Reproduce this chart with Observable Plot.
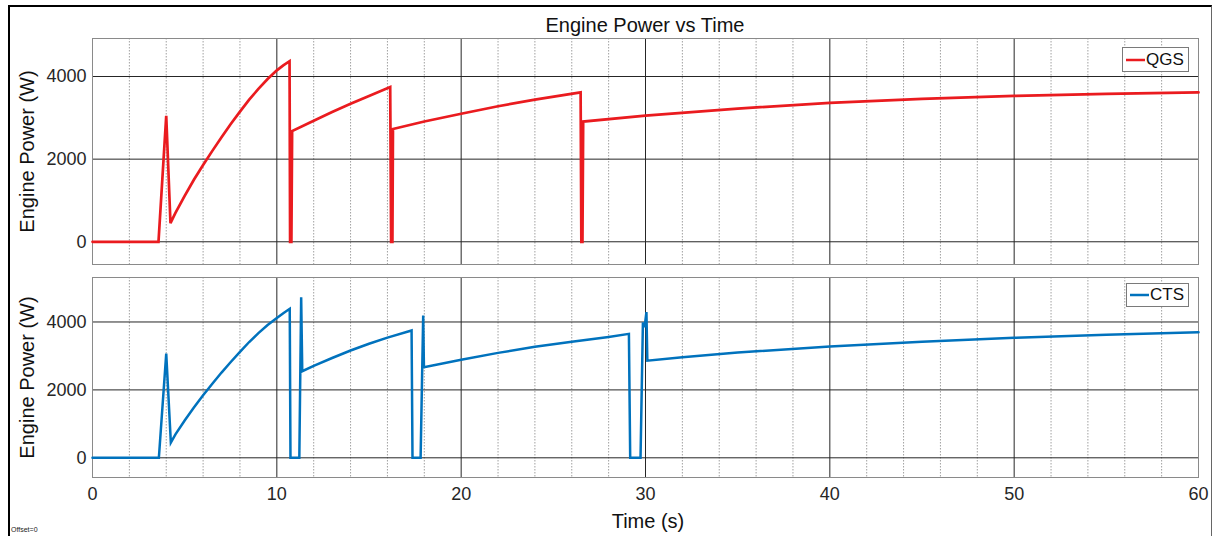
<!DOCTYPE html>
<html><head><meta charset="utf-8">
<script src="https://cdn.jsdelivr.net/npm/d3@7"></script>
<script src="https://cdn.jsdelivr.net/npm/@observablehq/plot@0.6"></script>
<style>
body{margin:0;background:#fff;}
#wrap{position:relative;width:1213px;height:536px;overflow:hidden;font-family:"Liberation Sans",Arial,sans-serif;background:#fff;color:#262626;}
.abs{position:absolute;}
#border{left:8px;top:5px;width:1201px;height:600px;border-left:2px solid #000;border-top:2px solid #000;border-right:1px solid #666;}
#title{left:445px;width:400px;top:14px;text-align:center;font-size:20px;line-height:22px;color:#111;}
#xlabel{left:548px;width:200px;top:510px;text-align:center;font-size:20px;line-height:22px;color:#111;}
#offset{left:11px;top:526px;font-size:7px;color:#222;}
.legend{background:#fff;border:1px solid #7a7a7a;display:flex;align-items:center;font-size:17px;color:#111;box-sizing:border-box;}
.legend svg{margin-left:3px;margin-right:1px;}
</style></head><body><div id="wrap">
<div id="border" class="abs"></div>
<div id="title" class="abs">Engine Power vs Time</div>
<div id="xlabel" class="abs">Time (s)</div>
<div id="offset" class="abs">Offset=0</div>
</div>
<script>
// ---- data ----
const qgsTime  = [0, 3.58, 4.0, 4.23, 4.5, 5.0, 5.5, 6.0, 6.5, 7.0, 7.5, 8.0, 8.5, 9.0, 9.5, 10.0, 10.35, 10.69, 10.72, 10.79, 10.83, 12, 13, 14, 15, 16.15, 16.2, 16.27, 16.3, 18, 20, 22, 24, 26.48, 26.52, 26.58, 26.62, 30, 35, 40, 45, 50, 55, 60];
const qgsPower = [0, 0, 3050, 450, 700, 1110, 1500, 1860, 2200, 2530, 2850, 3150, 3440, 3700, 3940, 4150, 4270, 4370, 0, 0, 2680, 2930, 3140, 3340, 3530, 3745, 0, 0, 2730, 2910, 3100, 3280, 3440, 3615, 0, 0, 2910, 3055, 3225, 3360, 3460, 3530, 3580, 3615];
const ctsTime  = [0, 3.6, 4.0, 4.25, 4.5, 5.0, 5.5, 6.0, 6.5, 7.0, 7.5, 8.0, 8.5, 9.0, 9.5, 10.0, 10.35, 10.7, 10.74, 11.22, 11.32, 11.38, 12, 13, 14, 15, 16, 17.31, 17.36, 17.8, 17.94, 17.98, 20, 22, 24, 26, 28, 29.1, 29.17, 29.73, 29.86, 29.95, 30.05, 30.1, 32, 35, 40, 45, 50, 55, 60];
const ctsPower = [0, 0, 3070, 450, 690, 1100, 1480, 1840, 2180, 2510, 2820, 3120, 3410, 3670, 3910, 4120, 4260, 4390, 0, 0, 4730, 2550, 2710, 2940, 3160, 3360, 3540, 3750, 0, 0, 4190, 2670, 2890, 3090, 3270, 3420, 3560, 3650, 0, 0, 3990, 3850, 4290, 2860, 2960, 3100, 3280, 3420, 3535, 3625, 3700];
const seriesNames = ["QGS", "CTS"];
const seriesColors = ["#ea1b1f", "#0072bd"];
const xTickLabels = [0, 10, 20, 30, 40, 50, 60];
const xMajorGrid = [10, 20, 30, 40, 50];
const xMinorGrid = [2, 4, 6, 8, 12, 14, 16, 18, 22, 24, 26, 28, 32, 34, 36, 38, 42, 44, 46, 48, 52, 54, 56, 58];
const yTickLabels = [0, 2000, 4000];
const yLabel = "Engine Power (W)";

const toRows = (ts, ps) => ts.map((t, i) => ({t, p: ps[i]}));

function panel({rows, color, yDomain, height, marginTop, marginBottom, showX, lineWidth}) {
  const marks = [
    Plot.ruleX(xMinorGrid, {stroke: "#a0a0a0", strokeDasharray: "1.5,1.5", strokeWidth: 1}),
    Plot.ruleX(xMajorGrid, {stroke: "#262626", strokeWidth: 1}),
    Plot.ruleY(yTickLabels, {stroke: "#262626", strokeWidth: 1}),
    Plot.frame({stroke: "#8a8a8a"}),
    Plot.axisY(yTickLabels, {tickSize: 0, tickPadding: 6, label: null, tickFormat: d => String(d), fontSize: 18}),
    Plot.text([yLabel], {frameAnchor: "left", textAnchor: "middle", dx: -65, rotate: -90, fontSize: 20, fill: "#111"}),
    Plot.line(rows, {x: "t", y: "p", stroke: color, strokeWidth: lineWidth, strokeLinejoin: "miter", strokeMiterlimit: 4})
  ];
  if (showX) marks.push(Plot.axisX(xTickLabels, {tickSize: 0, tickPadding: 10, label: null, fontSize: 18}));
  return Plot.plot({
    width: 1213, height, marginLeft: 92, marginRight: 15, marginTop, marginBottom,
    style: {fontFamily: "'Liberation Sans', Arial, sans-serif", fontSize: "18px", color: "#262626", background: "transparent", overflow: "visible"},
    x: {domain: [0, 60], axis: showX ? undefined : null},
    y: {domain: yDomain},
    marks
  });
}

const wrap = document.getElementById("wrap");
const topPanel = panel({rows: toRows(qgsTime, qgsPower), color: seriesColors[0], yDomain: [-550, 4920], height: 270, marginTop: 38, marginBottom: 6, showX: false, lineWidth: 2.7});
topPanel.style.position = "absolute"; topPanel.style.left = "0px"; topPanel.style.top = "0px";
wrap.appendChild(topPanel);
const botPanel = panel({rows: toRows(ctsTime, ctsPower), color: seriesColors[1], yDomain: [-580, 5310], height: 266, marginTop: 7, marginBottom: 59, showX: true, lineWidth: 2.5});
botPanel.style.position = "absolute"; botPanel.style.left = "0px"; botPanel.style.top = "270px";
wrap.appendChild(botPanel);

function legend(name, color, left, topPx, w, h) {
  const d = document.createElement("div");
  d.className = "legend abs";
  d.style.left = left + "px"; d.style.top = topPx + "px"; d.style.width = w + "px"; d.style.height = h + "px";
  d.innerHTML = `<svg width="19" height="4"><line x1="0" y1="2" x2="19" y2="2" stroke="${color}" stroke-width="2.5"/></svg><span>${name}</span>`;
  wrap.appendChild(d);
}
legend(seriesNames[0], seriesColors[0], 1122, 47, 67, 25);
legend(seriesNames[1], seriesColors[1], 1126, 283, 63, 24);
</script>
</body></html>
